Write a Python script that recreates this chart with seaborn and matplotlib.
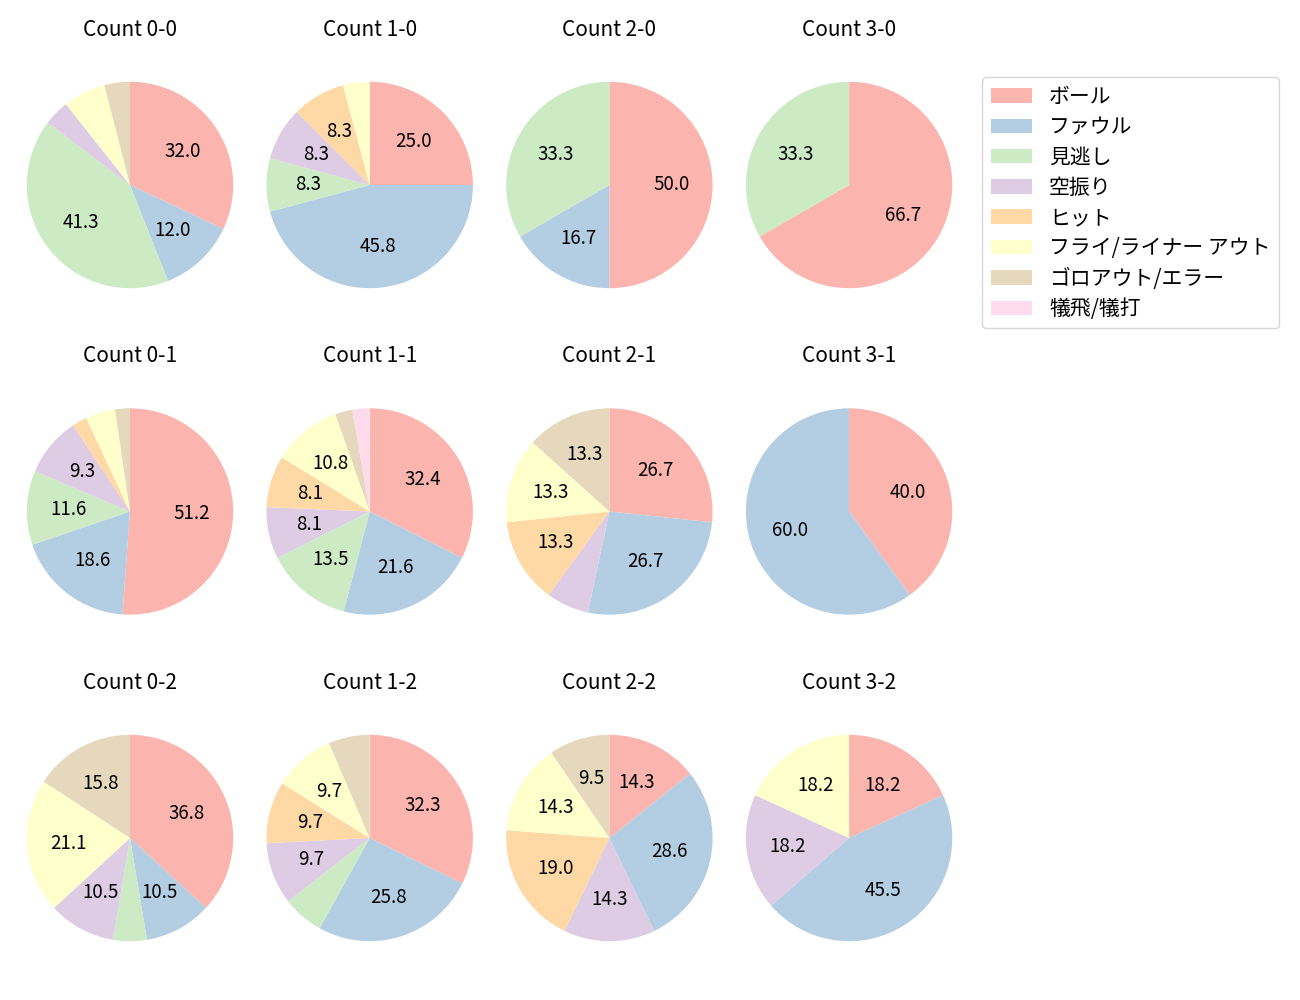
import matplotlib
matplotlib.use('Agg')
import matplotlib.pyplot as plt
from matplotlib.patches import Patch
import seaborn as sns

sns.set_theme(style='white')
plt.rcParams['font.family'] = ['Noto Sans CJK JP', 'DejaVu Sans']
plt.rcParams['text.color'] = 'black'

# 結果の区分
labels = ['ボール', 'ファウル', '見逃し', '空振り', 'ヒット',
          'フライ/ライナー アウト', 'ゴロアウト/エラー', '犠飛/犠打']

# カウントごとの件数 (区分順)
count_0_0 = [24, 9, 31, 3, 0, 5, 3, 0]
count_1_0 = [6, 11, 2, 2, 2, 1, 0, 0]
count_2_0 = [3, 1, 2, 0, 0, 0, 0, 0]
count_3_0 = [2, 0, 1, 0, 0, 0, 0, 0]
count_0_1 = [22, 8, 5, 4, 1, 2, 1, 0]
count_1_1 = [12, 8, 5, 3, 3, 4, 1, 1]
count_2_1 = [4, 4, 0, 1, 2, 2, 2, 0]
count_3_1 = [2, 3, 0, 0, 0, 0, 0, 0]
count_0_2 = [7, 2, 1, 2, 0, 4, 3, 0]
count_1_2 = [10, 8, 2, 3, 3, 3, 2, 0]
count_2_2 = [3, 6, 0, 3, 4, 3, 2, 0]
count_3_2 = [2, 5, 0, 2, 0, 2, 0, 0]

counts = {
    (0, 0): count_0_0, (1, 0): count_1_0, (2, 0): count_2_0, (3, 0): count_3_0,
    (0, 1): count_0_1, (1, 1): count_1_1, (2, 1): count_2_1, (3, 1): count_3_1,
    (0, 2): count_0_2, (1, 2): count_1_2, (2, 2): count_2_2, (3, 2): count_3_2,
}

colors = sns.color_palette('Pastel1', 8)

fig = plt.figure(figsize=(13, 10), dpi=100)
W, H = 1300, 1000
size = 258
for (b, s), vals in counts.items():
    cx = 130 + 239.7 * b
    cy = 185 + 326.5 * s
    ax = fig.add_axes([(cx - size / 2) / W, 1 - (cy + size / 2) / H, size / W, size / H])
    v = [x for x in vals if x > 0]
    c = [colors[i] for i, x in enumerate(vals) if x > 0]
    ax.pie(v, colors=c, startangle=90, counterclock=False,
           autopct=lambda p: f'{p:.1f}' if p >= 7 else '',
           wedgeprops={'linewidth': 0},
           textprops={'fontsize': 13.5})
    ax.set_title(f'Count {b}-{s}', fontsize=15, pad=14.5)

handles = [Patch(color=colors[i], label=l, linewidth=0) for i, l in enumerate(labels)]
fig.legend(handles=handles, loc='upper left', bbox_to_anchor=(972 / W, 1 - 67 / H),
           fontsize=15, frameon=True, labelspacing=0.4)

fig.savefig('out.png', dpi=100)
